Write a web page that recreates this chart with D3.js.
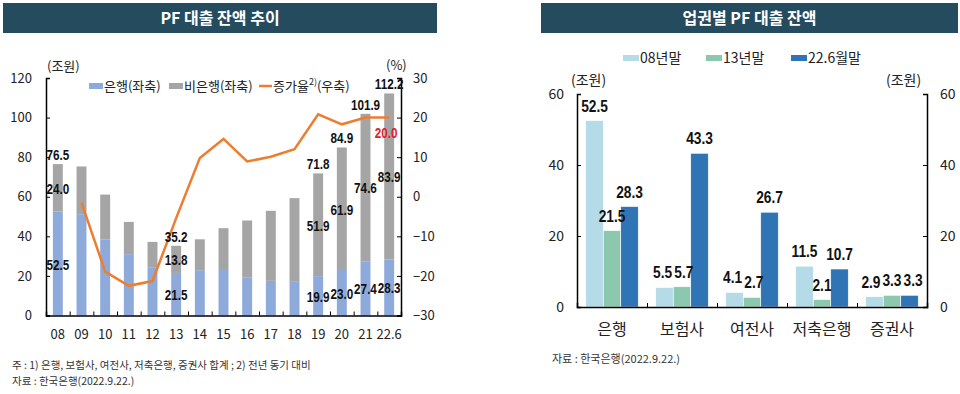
<!DOCTYPE html>
<html>
<head>
<meta charset="utf-8">
<script src="https://cdn.jsdelivr.net/npm/d3@7"></script>
<style>
  body { margin: 0; background: #fff; }
  svg { display: block; font-family: "Noto Sans CJK KR", "Noto Sans", sans-serif; }
  .num { font-family: "Liberation Sans", Arial, sans-serif; font-weight: bold; }
  .axis path, .axis line { stroke: #000; }
  .axis text { font-family: "Noto Sans CJK KR", sans-serif; fill: #222; }
</style>
</head>
<body>
<svg id="chart" width="960" height="394"></svg>
<script>
// ---- left chart data: PF 대출 잔액 추이
const years = ["08", "09", "10", "11", "12", "13", "14", "15", "16", "17", "18", "19", "20", "21", "22.6"];
const bankVals = [52.5, 51.2, 38.5, 31.0, 24.4, 21.5, 22.9, 23.5, 19.1, 17.5, 17.0, 19.9, 23.0, 27.4, 28.3];
const nonBankVals = [24.0, 24.1, 22.6, 16.3, 12.8, 13.8, 15.6, 20.6, 28.9, 35.4, 42.3, 51.9, 61.9, 74.6, 83.9];
const totalVals = [76.5, 75.3, 61.1, 47.3, 37.2, 35.2, 38.5, 44.1, 48.0, 52.9, 59.3, 71.8, 84.9, 101.9, 112.2];
const growthVals = [null, -1.5, -18.9, -22.5, -21.3, -5.4, 9.8, 14.6, 8.9, 10.1, 12.0, 20.8, 18.3, 20.0, 20.0];
// which years carry value labels
const labelledYears = ["08", "13", "19", "20", "21", "22.6"];
const leftTicks = [0, 20, 40, 60, 80, 100, 120];
const rightTicks = [-30, -20, -10, 0, 10, 20, 30];

// ---- right chart data: 업권별 PF 대출 잔액
const sectors = ["은행", "보험사", "여전사", "저축은행", "증권사"];
const periods = ["08년말", "13년말", "22.6월말"];
const vals08 = [52.5, 5.5, 4.1, 11.5, 2.9];
const vals13 = [21.5, 5.7, 2.7, 2.1, 3.3];
const vals226 = [28.3, 43.3, 26.7, 10.7, 3.3];
const sectorTicks = [0, 20, 40, 60];

const svg = d3.select("#chart");
const fmt = d3.format(".1f");

// bold numbers squeezed a bit, like the narrow font of the original
function numLabel(sel, size, squeeze) {
    return sel.attr("class", "num")
        .attr("font-size", size)
        .attr("text-anchor", "middle")
        .attr("transform", d => "translate(" + d.lx + "," + d.ly + ") scale(" + squeeze + ",1)");
}

// title bars
function titleBar(x, w, text) {
    svg.append("rect")
        .attr("x", x).attr("y", 3)
        .attr("width", w).attr("height", 30)
        .attr("fill", "#244b5e");
    svg.append("text")
        .attr("x", x + w / 2).attr("y", 24)
        .attr("text-anchor", "middle")
        .attr("fill", "#fff")
        .attr("font-size", 16)
        .attr("font-weight", "bold")
        .text(text);
}
titleBar(3, 434, "PF 대출 잔액 추이");
titleBar(541, 417, "업권별 PF 대출 잔액");

// ================= left chart =================
(function leftChart() {
    const rows = years.map((y, i) => ({
        year: y, bank: bankVals[i], non: nonBankVals[i], total: totalVals[i], growth: growthVals[i]
    }));

    const x = d3.scaleBand()
        .domain(years)
        .range([46, 401])
        .paddingInner(0.58)
        .paddingOuter(0.29);
    const yL = d3.scaleLinear().domain([0, 120]).range([315.5, 78]);
    const yR = d3.scaleLinear().domain([-30, 30]).range([315.5, 78]);

    const g = svg.append("g");

    // bars
    g.selectAll("rect.bank").data(rows).enter().append("rect")
        .attr("class", "bank")
        .attr("x", d => x(d.year))
        .attr("width", x.bandwidth())
        .attr("y", d => yL(d.bank))
        .attr("height", d => yL(0) - yL(d.bank))
        .attr("fill", "#8eaadb");
    g.selectAll("rect.non").data(rows).enter().append("rect")
        .attr("class", "non")
        .attr("x", d => x(d.year))
        .attr("width", x.bandwidth())
        .attr("y", d => yL(d.total))
        .attr("height", d => yL(d.bank) - yL(d.total))
        .attr("fill", "#a5a5a5");

    // growth line
    const line = d3.line()
        .defined(d => d.growth != null)
        .x(d => x(d.year) + x.bandwidth() / 2)
        .y(d => yR(d.growth));
    g.append("path")
        .datum(rows)
        .attr("d", line)
        .attr("fill", "none")
        .attr("stroke", "#ed7d31")
        .attr("stroke-width", 2.5);

    // axes
    g.append("g").attr("class", "axis")
        .attr("transform", "translate(46,0)")
        .call(d3.axisLeft(yL).tickValues(leftTicks).tickSizeInner(-4).tickSizeOuter(-4).tickPadding(14))
        .call(a => a.selectAll("text").attr("font-size", 13))
        .call(a => a.select("path").attr("stroke-width", 1.5));
    g.append("g").attr("class", "axis")
        .attr("transform", "translate(401,0)")
        .call(d3.axisRight(yR).tickValues(rightTicks).tickSizeInner(-4).tickSizeOuter(-4).tickPadding(12))
        .call(a => a.selectAll("text").attr("font-size", 13))
        .call(a => a.select("path").attr("stroke-width", 1.5));

    // x axis: labels at centres, ticks at band edges
    const edges = d3.scaleLinear().domain([0, years.length]).range([46, 401]);
    g.append("g").attr("class", "axis")
        .attr("transform", "translate(0,315.5)")
        .call(d3.axisBottom(edges).tickValues(d3.range(0, years.length + 1)).tickSize(-4).tickFormat(""))
        .call(a => a.select("path").attr("stroke-width", 1.5));
    g.append("g").attr("class", "axis")
        .attr("transform", "translate(0,315.5)")
        .call(d3.axisBottom(x).tickSize(0).tickPadding(14))
        .call(a => a.select("path").remove())
        .call(a => a.selectAll("text").attr("font-size", 13));

    // value labels
    const cx = d => x(d.year) + x.bandwidth() / 2;
    const lab = rows.filter(d => labelledYears.includes(d.year));
    const labels = [];
    lab.forEach(d => {
        labels.push({ lx: cx(d), ly: yL(d.total) - 4, text: fmt(d.total) });
        labels.push({ lx: cx(d), ly: yL(d.bank + d.non / 2) + 6, text: fmt(d.non) });
        labels.push({ lx: cx(d), ly: yL(d.bank / 2) + 6, text: fmt(d.bank) });
    });
    g.selectAll("text.vl").data(labels).enter().append("text")
        .call(s => numLabel(s, 15, 0.78))
        .attr("fill", "#111")
        .text(d => d.text);

    const last = rows[rows.length - 1];
    g.selectAll("text.growth").data([{ lx: cx(last) - 3, ly: yR(last.growth) + 20, text: fmt(last.growth) }])
        .enter().append("text")
        .call(s => numLabel(s, 15, 0.78))
        .attr("fill", "#e0202a")
        .text(d => d.text);

    // unit labels
    g.append("text").attr("x", 47).attr("y", 71).attr("font-size", 13).attr("fill", "#222").text("(조원)");
    g.append("text").attr("x", 386).attr("y", 70).attr("font-size", 13).attr("fill", "#222").text("(%)");

    // legend
    const lg = g.append("g").attr("font-size", 13).attr("fill", "#222");
    lg.append("rect").attr("x", 89).attr("y", 83).attr("width", 14).attr("height", 6).attr("fill", "#8eaadb");
    lg.append("text").attr("x", 104).attr("y", 91).text("은행(좌축)");
    lg.append("rect").attr("x", 169).attr("y", 83).attr("width", 14).attr("height", 6).attr("fill", "#a5a5a5");
    lg.append("text").attr("x", 184).attr("y", 91).text("비은행(좌축)");
    lg.append("line").attr("x1", 259).attr("x2", 272).attr("y1", 86).attr("y2", 86)
        .attr("stroke", "#ed7d31").attr("stroke-width", 2.5);
    const t = lg.append("text").attr("x", 273).attr("y", 91);
    t.append("tspan").text("증가율");
    t.append("tspan").attr("font-size", 9).attr("dy", -6).text("2)");
    t.append("tspan").attr("dy", 6).text("(우축)");

    // notes
    const notes = svg.append("g").attr("font-size", 10.5).attr("fill", "#333");
    notes.append("text").attr("x", 12).attr("y", 369).text("주 : 1) 은행, 보험사, 여전사, 저축은행, 증권사 합계 ; 2) 전년 동기 대비");
    notes.append("text").attr("x", 12).attr("y", 385).text("자료 : 한국은행(2022.9.22.)");
})();

// ================= right chart =================
(function rightChart() {
    const colors = ["#b4dbe7", "#8cc8ae", "#2f74b5"];
    const rows = sectors.map((s, i) => ({ sector: s, values: [vals08[i], vals13[i], vals226[i]] }));

    const x0 = d3.scaleBand()
        .domain(sectors)
        .range([577, 927])
        .paddingInner(0.25)
        .paddingOuter(0.125);
    const x1 = d3.scaleBand().domain(periods).range([0, x0.bandwidth()]);
    const y = d3.scaleLinear().domain([0, 60]).range([307, 94]);
    const color = d3.scaleOrdinal().domain(periods).range(colors);

    const g = svg.append("g");

    const cells = rows.flatMap(r => periods.map((p, i) => ({ sector: r.sector, period: p, value: r.values[i] })));
    g.selectAll("rect.bar").data(cells).enter().append("rect")
        .attr("class", "bar")
        .attr("x", d => x0(d.sector) + x1(d.period))
        .attr("width", x1.bandwidth())
        .attr("y", d => y(d.value))
        .attr("height", d => y(0) - y(d.value))
        .attr("fill", d => color(d.period))
        .attr("stroke", "#fff")
        .attr("stroke-width", 0.6);

    // labels above bars, pushed apart where neighbours collide
    const size = 16, squeeze = 0.86;
    cells.forEach(d => {
        d.lx = x0(d.sector) + x1(d.period) + x1.bandwidth() / 2;
        d.ly = y(d.value) - 9;
        d.text = fmt(d.value);
        d.w = d.text.length * 8.9 * squeeze - 4.4 * squeeze;
    });
    for (let pass = 0; pass < 3; pass++) {
        sectors.forEach(s => {
            const grp = cells.filter(d => d.sector === s);
            for (let i = 0; i < grp.length - 1; i++) {
                const a = grp[i], b = grp[i + 1];
                if (Math.abs(a.ly - b.ly) > 14) continue;
                const gap = (b.lx - b.w / 2) - (a.lx + a.w / 2) - 2;
                if (gap < 0) { a.lx += gap / 2; b.lx -= gap / 2; }
            }
        });
    }
    g.selectAll("text.vl").data(cells).enter().append("text")
        .call(s => numLabel(s, size, squeeze))
        .attr("fill", "#111")
        .text(d => d.text);

    // axes
    g.append("g").attr("class", "axis")
        .attr("transform", "translate(577,0)")
        .call(d3.axisLeft(y).tickValues(sectorTicks).tickSizeInner(-4).tickSizeOuter(-4).tickPadding(13))
        .call(a => a.selectAll("text").attr("font-size", 14))
        .call(a => a.select("path").attr("stroke-width", 1.5));
    g.append("g").attr("class", "axis")
        .attr("transform", "translate(927,0)")
        .call(d3.axisRight(y).tickValues(sectorTicks).tickSizeInner(-4).tickSizeOuter(-4).tickPadding(13))
        .call(a => a.selectAll("text").attr("font-size", 14))
        .call(a => a.select("path").attr("stroke-width", 1.5));

    const edges = d3.scaleLinear().domain([0, sectors.length]).range([577, 927]);
    g.append("g").attr("class", "axis")
        .attr("transform", "translate(0,307)")
        .call(d3.axisBottom(edges).tickValues(d3.range(0, sectors.length + 1)).tickSize(-4).tickFormat(""))
        .call(a => a.select("path").attr("stroke-width", 1.5));
    g.append("g").attr("class", "axis")
        .attr("transform", "translate(0,307)")
        .call(d3.axisBottom(x0).tickSize(0).tickPadding(17))
        .call(a => a.select("path").remove())
        .call(a => a.selectAll("text").attr("font-size", 16));

    // units
    g.append("text").attr("x", 571).attr("y", 85).attr("font-size", 14).attr("fill", "#222").text("(조원)");
    g.append("text").attr("x", 886).attr("y", 85).attr("font-size", 14).attr("fill", "#222").text("(조원)");

    // legend
    const lg = g.append("g").attr("font-size", 14).attr("fill", "#222");
    const legendX = [623, 706, 791];
    periods.forEach((p, i) => {
        lg.append("rect").attr("x", legendX[i]).attr("y", 55).attr("width", 16).attr("height", 6).attr("fill", color(p));
        lg.append("text").attr("x", legendX[i] + 17).attr("y", 63).text(p);
    });

    svg.append("text").attr("x", 552).attr("y", 363).attr("font-size", 11).attr("fill", "#333")
        .text("자료 : 한국은행(2022.9.22.)");
})();
</script>
</body>
</html>
